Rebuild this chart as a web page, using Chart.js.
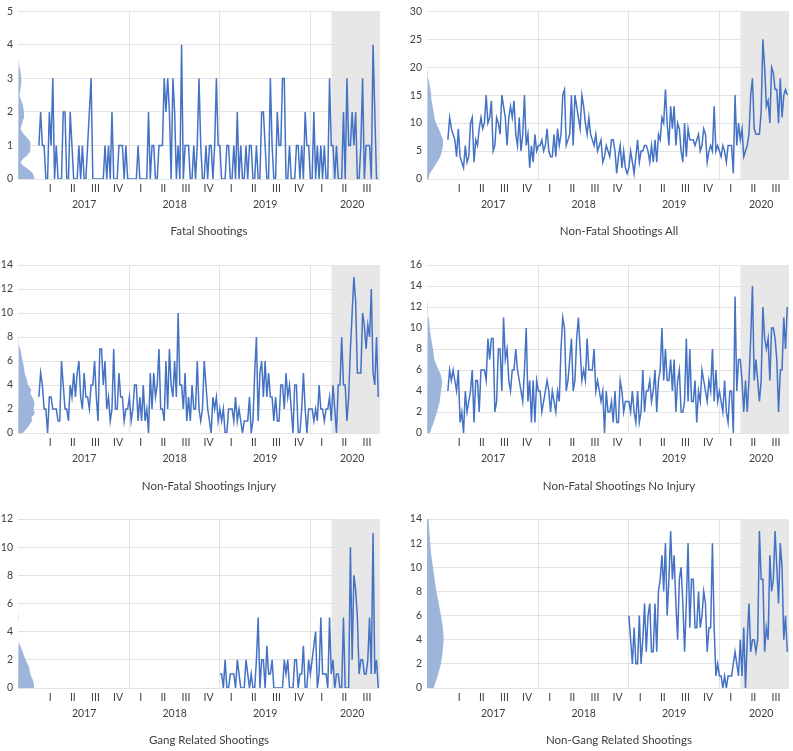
<!DOCTYPE html>
<html>
<head>
<meta charset="utf-8">
<script src="https://cdn.jsdelivr.net/npm/chart.js@4.4.1/dist/chart.umd.min.js"></script>
<style>
  body { margin: 0; background: #fff; }
  #wrap { position: relative; width: 793px; height: 751px; font-family: Lato, sans-serif; }
  .panel { position: absolute; }
  .title { position: absolute; font-size: 11.5px; line-height: 16px; color: #404040; transform: translateX(-50%); white-space: nowrap; }
</style>
</head>
<body>
<div id="wrap"></div>
<script>
// weekly counts, week 0 = first week of 2017
const fatal = [
  1,2,1,1,0,0,2,1,3,0,1,0,0,0,2,2,0,0,2,1,0,0,0,1,0,1,0,0,1,2,3,0,0,0,0,0,0,0,1,0,1,0,2,0,0,0,1,1,1,0,1,0,
  0,0,0,0,0,1,0,0,0,0,0,2,0,1,1,0,0,1,1,1,3,2,3,2,0,3,2,0,1,0,4,0,1,1,1,0,0,1,0,1,3,1,0,0,1,0,1,1,0,1,3,1,
  1,0,0,0,1,1,0,0,1,0,2,0,1,0,0,1,0,1,1,0,0,1,0,0,2,2,1,0,0,3,1,0,0,2,1,1,3,3,0,0,1,0,0,0,1,1,0,1,0,2,1,1,
  0,0,2,0,1,0,1,0,1,0,0,3,1,1,0,1,0,0,0,2,0,3,1,1,2,1,2,0,0,1,3,0,1,1,1,0,4,2,0,0
];
const nonFatalAll = [
  7,11,9,8,7,4,9,4,3,2,6,3,4,10,11,3,7,6,9,11,9,10,15,10,11,14,5,6,11,10,8,15,13,11,6,11,13,11,14,8,6,11,5,8,15,6,8,2,6,3,8,5,
  6,6,7,5,6,9,5,4,4,8,4,9,6,8,15,16,6,7,8,15,6,15,13,11,9,15,13,10,8,11,8,7,6,8,5,6,7,3,4,6,5,4,7,7,5,1,4,6,2,5,2,1,
  2,5,3,1,4,7,3,5,5,6,6,5,3,6,3,7,3,8,7,11,10,16,10,6,13,9,13,6,10,9,5,3,10,4,9,7,7,7,6,7,8,5,6,9,8,3,5,6,5,13,5,6,
  5,4,6,5,3,6,6,6,1,15,6,10,7,9,4,5,6,8,15,18,9,8,8,8,12,25,20,13,14,10,20,19,16,16,10,18,11,15,16,15
];
const nonFatalInjury = [
  3,5,4,2,2,0,3,3,2,2,2,1,1,6,4,2,2,1,4,3,5,3,5,6,3,2,5,3,3,2,4,4,6,3,1,7,7,4,6,2,3,1,2,7,2,2,5,3,3,1,2,2,
  3,1,2,4,4,1,3,1,4,1,2,0,5,2,5,3,4,7,2,2,1,6,2,7,4,3,6,3,10,4,4,2,5,1,3,1,4,2,2,6,2,1,2,6,4,2,1,0,3,2,3,1,
  2,1,2,0,0,2,2,2,1,3,1,2,1,0,1,1,1,3,0,1,5,8,1,5,6,3,6,3,5,3,3,1,3,1,1,4,4,2,5,3,4,2,0,4,4,0,0,2,5,2,0,2,
  2,2,1,2,1,4,2,2,1,2,2,3,1,4,2,0,4,4,8,4,4,1,3,7,10,13,11,5,5,5,10,9,7,9,8,12,5,4,8,3
];
const nonFatalNoInjury = [
  4,6,5,6,5,4,6,1,2,0,4,2,3,4,6,1,5,5,2,6,6,6,5,9,7,9,9,2,3,8,8,4,11,7,8,5,4,6,6,8,6,5,4,3,6,10,3,5,1,5,1,5,
  4,4,2,3,4,5,4,2,4,3,2,4,3,8,11,10,4,5,7,9,4,5,9,11,8,5,6,5,9,6,6,6,8,4,5,4,3,4,0,4,2,2,3,1,4,1,1,5,4,2,3,3,
  3,2,4,2,1,4,1,2,6,2,4,4,5,3,4,6,2,5,6,10,5,8,5,5,7,4,7,2,5,6,2,2,3,9,3,8,3,3,5,1,4,3,6,5,4,3,5,4,8,3,6,3,
  4,3,2,5,2,1,4,4,0,13,4,7,7,5,2,5,2,5,9,14,5,7,5,3,5,12,9,8,9,5,10,10,9,7,2,6,6,11,8,12
];
// gang split only recorded from 2019
const gangStartWeek = 104;
const gangRelated = [
  1,1,0,2,0,0,1,1,1,0,2,1,0,0,0,2,1,0,1,0,0,2,5,0,2,2,0,3,1,1,2,0,0,0,0,0,0,2,1,2,0,0,0,2,2,0,1,1,3,0,0,2,
  1,2,3,4,0,1,5,1,1,1,0,5,1,2,0,1,1,0,0,5,0,0,0,10,2,8,7,5,1,2,2,1,1,2,5,1,11,1,2,0
];
const nonGangRelated = [
  6,4,2,5,2,2,6,2,4,7,3,6,7,3,3,7,3,8,9,11,8,12,6,9,13,9,11,7,4,9,10,7,3,7,12,5,9,9,5,5,8,5,6,8,7,3,5,5,12,5,1,2,
  1,1,0,1,0,1,1,1,2,3,2,1,4,1,5,0,4,7,3,4,4,3,4,13,9,9,3,5,4,11,8,9,13,10,7,12,10,4,6,3
];

// distribution of each series (relative density, 100 = widest)
const fatalDensLevels = [0,0.1,0.2,0.3,0.4,0.5,0.6,0.7,0.8,0.9,1.0,1.1,1.2,1.3,1.4,1.5,1.6,1.8,2.0,2.2,2.4,2.5,2.6,2.8,3.0,3.2,3.4,3.6,4.0,4.5];
const fatalDens = [97,94,82,59,29,15,29,53,68,74,74,71,59,41,24,15,21,32,35,29,15,9,12,18,19,15,6,3,2.5,2];
const allDensLevels = [0,1,2,3,4,5,6,7,8,9,10,11,12,13,14,15,16,17,18,19,20,25,27.5];
const allDens = [9,16,39,59,78,88,94,94,82,69,53,43,39,33,29,25,20,14,9,6,3,2,1];
const injuryDensLevels = [0,0.5,0.8,1.05,1.3,1.6,2.0,2.5,3.0,3.3,3.6,4.0,4.4,5.0,5.5,6.1,6.6,7.2,7.7,8,9,12,14];
const injuryDens = [29,59,72,84,79,98,92,98,84,72,78,59,53,39,35,25,19,10,6,4,2.5,2,2];
const noInjDensLevels = [0,1,2,3,4,4.5,5,5.5,6,6.5,7,8,9,10,11,12,13,14,15.5];
const noInjDens = [16,39,59,75,82,88,88,82,69,55,43,35,24,16,10,6,4,2.5,1];
const gangDensLevels = [0,0.3,0.6,1,1.5,2,2.5,3,3.2,3.5,4,4.5,5,5.5,6,8,11];
const gangDens = [92,94,86,72,65,45,29,14,4,3,3,4,6,4,2,1,1];
const nonGangDensLevels = [0,1,2,3,4,5,6,7,8,9,10,11,12,13,14];
const nonGangDens = [39,63,82,92,98,94,82,69,55,45,35,25,19,14,8];

// axis labels
const quarterWeeks = [6.5,19.5,32.5,45.5,58.5,71.5,84.5,97.5,110.5,123.5,136.5,149.5,162.5,175.5,188.5];
const quarterLabels = ['I','II','III','IV','I','II','III','IV','I','II','III','IV','I','II','III'];
const yearWeeks = [26, 78, 130, 180];
const yearLabels = ['2017','2018','2019','2020'];
const yearBreaks = [52, 104, 156];
const covidStartWeek = 168;
const weekMin = -12, weekMax = 196;

const panels = [
  { title: 'Fatal Shootings', values: fatal, start: 0, yMax: 5, step: 1, dLev: fatalDensLevels, dVal: fatalDens, col: 0, row: 0 },
  { title: 'Non-Fatal Shootings All', values: nonFatalAll, start: 0, yMax: 30, step: 5, dLev: allDensLevels, dVal: allDens, col: 1, row: 0 },
  { title: 'Non-Fatal Shootings Injury', values: nonFatalInjury, start: 0, yMax: 14, step: 2, dLev: injuryDensLevels, dVal: injuryDens, col: 0, row: 1 },
  { title: 'Non-Fatal Shootings No Injury', values: nonFatalNoInjury, start: 0, yMax: 16, step: 2, dLev: noInjDensLevels, dVal: noInjDens, col: 1, row: 1 },
  { title: 'Gang Related Shootings', values: gangRelated, start: gangStartWeek, yMax: 12, step: 2, dLev: gangDensLevels, dVal: gangDens, col: 0, row: 2 },
  { title: 'Non-Gang Related Shootings', values: nonGangRelated, start: gangStartWeek, yMax: 14, step: 2, dLev: nonGangDensLevels, dVal: nonGangDens, col: 1, row: 2 }
];

// page layout
const colLeft = [0, 396], colWidth = [396, 397], axisW = [18, 31], padRight = [16, 4];
const rowTop = [0, 250, 500], rowHeight = [250, 250, 251], padTop = [10, 15, 19], areaH = [169, 168, 169];
const titleX = [209, 619], titleY = [231, 486, 740];
const xAxisH = 16;

const lineColor = '#4472c4';
const densColor = '#9db4db';
const shadeColor = '#e7e7e7';
const gridColor = '#e2e2e2';
const tickFont = { family: 'Lato', size: 10.5 };
const tickColor = '#404040';

const wrap = document.getElementById('wrap');

panels.forEach((p) => {
  const canvas = document.createElement('canvas');
  canvas.className = 'panel';
  canvas.width = colWidth[p.col];
  canvas.height = rowHeight[p.row];
  canvas.style.left = colLeft[p.col] + 'px';
  canvas.style.top = rowTop[p.row] + 'px';
  wrap.appendChild(canvas);

  const title = document.createElement('div');
  title.className = 'title';
  title.textContent = p.title;
  title.style.left = titleX[p.col] + 'px';
  title.style.top = (titleY[p.row] - 8) + 'px';
  wrap.appendChild(title);

  // closed outline of the density, hugging the y axis
  const density = p.dLev.map((y, k) => ({ x: p.dVal[k], y: y }));
  density.push({ x: 0, y: p.dLev[p.dLev.length - 1] }, { x: 0, y: p.dLev[0] });

  const bottomPad = rowHeight[p.row] - padTop[p.row] - areaH[p.row] - 2 * xAxisH;

  new Chart(canvas.getContext('2d'), {
    type: 'line',
    data: {
      datasets: [
        {
          data: p.values.map((v, k) => ({ x: p.start + k, y: v })),
          xAxisID: 'x',
          borderColor: lineColor,
          borderWidth: 1.5,
          pointRadius: 0,
          fill: false,
          order: 0
        },
        {
          data: density,
          xAxisID: 'xd',
          borderColor: 'rgba(0,0,0,0)',
          borderWidth: 0,
          pointRadius: 0,
          backgroundColor: densColor,
          fill: 'shape',
          order: 1
        },
        {
          // 2020 pandemic period
          data: [{ x: covidStartWeek, y: p.yMax }, { x: weekMax, y: p.yMax }],
          xAxisID: 'x',
          borderColor: 'rgba(0,0,0,0)',
          borderWidth: 0,
          pointRadius: 0,
          backgroundColor: shadeColor,
          fill: 'origin',
          order: 2
        }
      ]
    },
    options: {
      responsive: false,
      animation: false,
      devicePixelRatio: 1,
      events: [],
      layout: { padding: { top: padTop[p.row], right: padRight[p.col], bottom: bottomPad, left: 0 } },
      plugins: { legend: { display: false }, tooltip: { enabled: false } },
      scales: {
        y: {
          min: 0,
          max: p.yMax,
          ticks: { stepSize: p.step, font: tickFont, color: tickColor, padding: 5 },
          grid: { color: gridColor, drawTicks: false },
          border: { display: false },
          afterFit: (s) => { s.width = axisW[p.col]; }
        },
        x: {
          type: 'linear',
          position: 'bottom',
          weight: 0,
          min: weekMin,
          max: weekMax,
          grid: { display: false, drawTicks: false },
          border: { display: false },
          ticks: {
            autoSkip: false,
            maxRotation: 0,
            font: tickFont,
            color: tickColor,
            padding: 3,
            callback: (v, i) => quarterLabels[i]
          },
          afterBuildTicks: (s) => { s.ticks = quarterWeeks.map((w) => ({ value: w })); },
          afterFit: (s) => { s.height = xAxisH; }
        },
        xYear: {
          type: 'linear',
          position: 'bottom',
          weight: 1,
          min: weekMin,
          max: weekMax,
          grid: { display: false, drawTicks: false },
          border: { display: false },
          ticks: {
            autoSkip: false,
            maxRotation: 0,
            font: tickFont,
            color: tickColor,
            padding: 3,
            callback: (v, i) => yearLabels[i]
          },
          afterBuildTicks: (s) => { s.ticks = yearWeeks.map((w) => ({ value: w })); },
          afterFit: (s) => { s.height = xAxisH; }
        },
        xGrid: {
          // vertical lines between years
          type: 'linear',
          position: 'top',
          min: weekMin,
          max: weekMax,
          grid: { color: gridColor, drawTicks: false },
          border: { display: false },
          ticks: { display: false },
          afterBuildTicks: (s) => { s.ticks = yearBreaks.map((w) => ({ value: w })); }
        },
        xd: {
          type: 'linear',
          display: false,
          min: 0,
          max: 2129
        }
      }
    }
  });
});
</script>
</body>
</html>
